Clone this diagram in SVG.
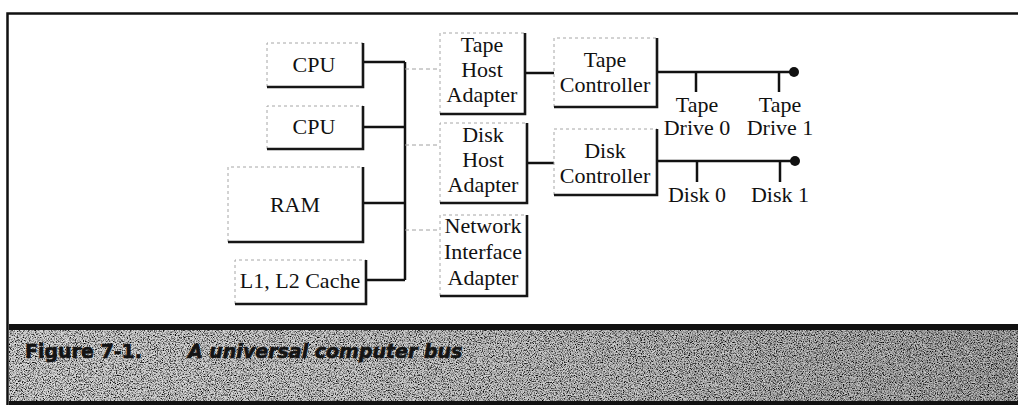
<svg xmlns="http://www.w3.org/2000/svg" width="1018" height="408" viewBox="0 0 1018 408">
  <style>
    .lbl { font-family: "Liberation Serif", "Times New Roman", serif; font-size: 22px; fill: #111; text-anchor: middle; }
    .cap { font-family: "DejaVu Sans", "Liberation Sans", sans-serif; font-weight: bold; font-size: 19px; fill: #141414; stroke: #141414; stroke-width: 0.6; }
    .lite { fill: none; stroke: #a6a6a6; stroke-width: 1; stroke-dasharray: 3 3; }
    .dark { fill: none; stroke: #161616; stroke-width: 2.6; }
    .bus { fill: none; stroke: #111; stroke-width: 2.5; }
    .tap { fill: none; stroke: #a0a0a0; stroke-width: 1; stroke-dasharray: 4 3; }
    .frame { fill: none; stroke: #111; stroke-width: 2.5; }
  </style>
  <defs>
    <linearGradient id="bandShade" x1="0" y1="0" x2="1" y2="0">
      <stop offset="0" stop-color="#cfcfcf"/>
      <stop offset="0.5" stop-color="#bdbdbd"/>
      <stop offset="1" stop-color="#9c9c9c"/>
    </linearGradient>
    <!-- halftone-like grain for the caption band -->
    <filter id="grain" x="0" y="0" width="100%" height="100%">
      <feTurbulence type="fractalNoise" baseFrequency="0.85" numOctaves="2" seed="7" result="n"/>
      <feColorMatrix in="n" type="matrix" values="0 0 0 0 0  0 0 0 0 0  0 0 0 0 0  -3 0 0 0 1.7"/>
    </filter>
    <filter id="grainLight" x="0" y="0" width="100%" height="100%">
      <feTurbulence type="fractalNoise" baseFrequency="0.9" numOctaves="2" seed="21" result="n"/>
      <feColorMatrix in="n" type="matrix" values="0 0 0 0 1  0 0 0 0 1  0 0 0 0 1  -3 0 0 0 1.6"/>
    </filter>
  </defs>

  <!-- outer frame: top and left rules -->
  <path class="frame" d="M7.5 405 V13.5 H1018"/>

  <!-- caption band -->
  <g id="caption">
    <rect x="9" y="324" width="1009" height="6" fill="#111"/>
    <rect x="9" y="330" width="1009" height="71" fill="url(#bandShade)"/>
    <rect x="9" y="330" width="1009" height="71" filter="url(#grain)"/>
    <rect x="9" y="330" width="1009" height="71" filter="url(#grainLight)" opacity="0.6"/>
    <rect x="9" y="401" width="1009" height="4" fill="#111"/>
    <text class="cap" x="25" y="358">Figure 7-1.</text>
    <text class="cap" x="188" y="358" font-style="italic">A universal computer bus</text>
  </g>

  <!-- connectors -->
  <g id="connectors">
    <!-- system bus and its drops -->
    <path class="bus" d="M405 62 V280"/>
    <path class="bus" d="M363 62 H405"/>
    <path class="bus" d="M363 127 H405"/>
    <path class="bus" d="M363 203 H405"/>
    <path class="bus" d="M366 280 H405"/>
    <!-- adapter taps -->
    <path class="tap" d="M405 69 H440"/>
    <path class="tap" d="M405 145 H440"/>
    <path class="tap" d="M405 230 H440"/>
    <!-- adapter to controller -->
    <path class="bus" d="M525 73 H554"/>
    <path class="bus" d="M527 163 H554"/>
    <!-- tape chain -->
    <path class="bus" d="M657 72 H794"/>
    <path class="bus" d="M696 72 V92"/>
    <path class="bus" d="M779 72 V92"/>
    <circle cx="794" cy="72" r="5" fill="#111"/>
    <!-- disk chain -->
    <path class="bus" d="M657 161 H795"/>
    <path class="bus" d="M697 161 V182"/>
    <path class="bus" d="M780 161 V182"/>
    <circle cx="795" cy="161" r="5" fill="#111"/>
  </g>

  <g id="cpu-0">
    <path class="lite" d="M267 87 V43 H363"/>
    <path class="dark" d="M363 43 V87 H267"/>
    <text class="lbl" x="314" y="72">CPU</text>
  </g>
  <g id="cpu-1">
    <path class="lite" d="M267 149 V106 H363"/>
    <path class="dark" d="M363 106 V149 H267"/>
    <text class="lbl" x="314" y="134">CPU</text>
  </g>
  <g id="ram">
    <path class="lite" d="M228 242 V167 H363"/>
    <path class="dark" d="M363 167 V242 H228"/>
    <text class="lbl" x="295" y="212">RAM</text>
  </g>
  <g id="cache">
    <path class="lite" d="M235 304 V260 H366"/>
    <path class="dark" d="M366 260 V304 H235"/>
    <text class="lbl" x="300" y="288">L1, L2 Cache</text>
  </g>

  <g id="tape-host-adapter">
    <path class="lite" d="M440 114 V33 H525"/>
    <path class="dark" d="M525 33 V114 H440"/>
    <text class="lbl" x="482" y="52">Tape</text>
    <text class="lbl" x="482" y="77">Host</text>
    <text class="lbl" x="482" y="102">Adapter</text>
  </g>
  <g id="disk-host-adapter">
    <path class="lite" d="M440 203 V123 H527"/>
    <path class="dark" d="M527 123 V203 H440"/>
    <text class="lbl" x="483" y="142">Disk</text>
    <text class="lbl" x="483" y="167">Host</text>
    <text class="lbl" x="483" y="192">Adapter</text>
  </g>
  <g id="network-interface-adapter">
    <path class="lite" d="M440 296 V215 H527"/>
    <path class="dark" d="M527 215 V296 H440"/>
    <text class="lbl" x="483" y="233">Network</text>
    <text class="lbl" x="483" y="259">Interface</text>
    <text class="lbl" x="483" y="285">Adapter</text>
  </g>

  <g id="tape-controller">
    <path class="lite" d="M554 107 V38 H657"/>
    <path class="dark" d="M657 38 V107 H554"/>
    <text class="lbl" x="605" y="67">Tape</text>
    <text class="lbl" x="605" y="92">Controller</text>
  </g>
  <g id="disk-controller">
    <path class="lite" d="M554 195 V129 H657"/>
    <path class="dark" d="M657 129 V195 H554"/>
    <text class="lbl" x="605" y="158">Disk</text>
    <text class="lbl" x="605" y="183">Controller</text>
  </g>

  <g id="tape-drive-0">
    <text class="lbl" x="697" y="112">Tape</text>
    <text class="lbl" x="697" y="135">Drive 0</text>
  </g>
  <g id="tape-drive-1">
    <text class="lbl" x="780" y="112">Tape</text>
    <text class="lbl" x="780" y="135">Drive 1</text>
  </g>
  <g id="disk-0">
    <text class="lbl" x="697" y="202">Disk 0</text>
  </g>
  <g id="disk-1">
    <text class="lbl" x="780" y="202">Disk 1</text>
  </g>
</svg>
